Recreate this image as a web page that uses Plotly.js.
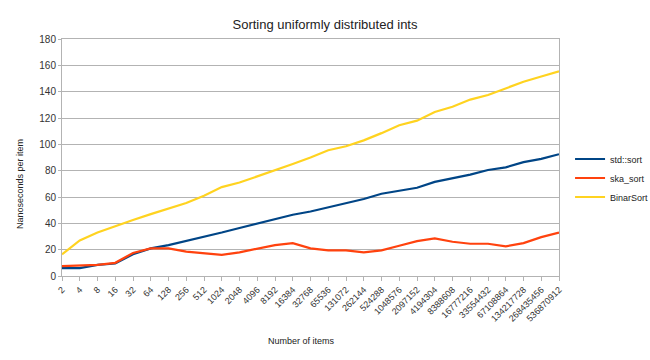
<!DOCTYPE html>
<html>
<head>
<meta charset="utf-8">
<script src="https://cdn.plot.ly/plotly-3.0.1.min.js"></script>
<style>html,body{margin:0;padding:0;background:#fff;}#chart{width:650px;height:360px;}</style>
</head>
<body>
<div id="chart"></div>
<script>
var categories = ["2","4","8","16","32","64","128","256","512","1024","2048","4096","8192","16384","32768","65536","131072","262144","524288","1048576","2097152","4194304","8388608","16777216","33554432","67108864","134217728","268435456","536870912"];
var stdSort = [6, 6, 8.5, 9.5, 16.5, 21, 23.5, 26.5, 30, 33, 36.5, 40, 43.5, 46.5, 49, 52, 55, 58.5, 62.5, 64.5, 67, 71.5, 74, 77, 80.5, 82.5, 86.5, 89, 92.5];
var skaSort = [7.5, 8, 8.5, 10, 17.5, 21, 21, 18.5, 17, 16, 18, 21, 23.5, 25, 21, 19.5, 19.5, 18, 19.5, 23, 26.5, 28.5, 26, 24.5, 24.5, 22.5, 25, 29.5, 33];
var binarSort = [16.5, 27, 33, 38, 42.5, 47, 51.5, 55.5, 61, 67.5, 71, 75.5, 80, 85, 90, 95.5, 98.5, 103, 108.5, 114.5, 118, 124.5, 128.5, 134, 137.5, 142.5, 147.5, 151.5, 155.5];
var yTicks = [0, 20, 40, 60, 80, 100, 120, 140, 160, 180];

var font = "Liberation Sans, Arial, sans-serif";
var traces = [
  {x: categories, y: stdSort, name: "std::sort", type: "scatter", mode: "lines", line: {color: "#004586", width: 2.2}},
  {x: categories, y: skaSort, name: "ska_sort", type: "scatter", mode: "lines", line: {color: "#ff420e", width: 2.2}},
  {x: categories, y: binarSort, name: "BinarSort", type: "scatter", mode: "lines", line: {color: "#ffd320", width: 2.2}}
];
var layout = {
  width: 650, height: 360,
  margin: {l: 62, r: 91, t: 39, b: 84, autoexpand: false},
  paper_bgcolor: "#fff", plot_bgcolor: "#fff",
  font: {family: font, size: 9, color: "#333"},
  title: {text: "Sorting uniformly distributed ints", font: {family: font, size: 13, color: "#222"}, x: 0.5, xref: "container", y: 0.945, yref: "container"},
  xaxis: {
    type: "category", range: [0, categories.length - 1],
    showgrid: false, showline: true, linecolor: "#b3b3b3", linewidth: 1, mirror: true,
    ticks: "outside", ticklen: 4, tickcolor: "#b3b3b3", tickangle: -45,
    tickfont: {family: font, size: 9, color: "#333"},
    zeroline: false, fixedrange: true
  },
  yaxis: {
    range: [0, 180], tickvals: yTicks,
    showgrid: true, gridcolor: "#b3b3b3", gridwidth: 1,
    showline: true, linecolor: "#b3b3b3", linewidth: 1, mirror: true,
    ticks: "outside", ticklen: 3, tickcolor: "#b3b3b3",
    tickfont: {family: font, size: 10, color: "#333"},
    zeroline: false, fixedrange: true
  },
  annotations: [
    {text: "Number of items", xref: "paper", yref: "paper", x: 0.481, y: -0.274, xanchor: "center", yanchor: "middle", showarrow: false, font: {family: font, size: 9, color: "#222"}},
    {text: "Nanoseconds per item", xref: "paper", yref: "paper", x: -0.0845, y: 0.388, xanchor: "center", yanchor: "middle", textangle: -90, showarrow: false, font: {family: font, size: 9, color: "#222"}}
  ],
  legend: {xref: "container", yref: "container", x: 0.877, xanchor: "left", y: 1 - 178 / 360, yanchor: "middle", font: {family: font, size: 9, color: "#222"}, bgcolor: "rgba(0,0,0,0)", tracegroupgap: 0, itemwidth: 30},
  showlegend: true
};
Plotly.newPlot("chart", traces, layout, {displayModeBar: false, staticPlot: true});
</script>
</body>
</html>
